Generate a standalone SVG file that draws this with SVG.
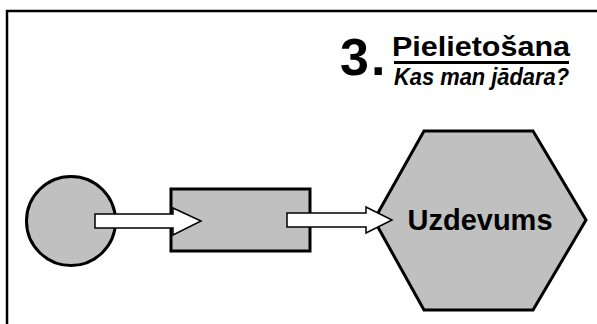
<svg xmlns="http://www.w3.org/2000/svg" width="597" height="324" viewBox="0 0 597 324">
<style>
.node{fill:#c0c0c0;stroke:#000;stroke-width:3}
.arrow{fill:#fff;stroke:#000;stroke-width:1.5;stroke-linejoin:miter}
.t{font-family:"Liberation Sans",Arial,sans-serif;font-weight:bold;fill:#000}
</style>
<rect width="597" height="324" fill="#fff"/>
<path d="M7 324 V11 H597" fill="none" stroke="#000" stroke-width="2.5"/>
<g id="title">
<text class="t" x="340" y="75" font-size="52" letter-spacing="2">3.</text>
<text class="t" x="392" y="56" font-size="27" textLength="178" lengthAdjust="spacingAndGlyphs">Pielietošana</text>
<line x1="394" y1="62.5" x2="569" y2="62.5" stroke="#000" stroke-width="3"/>
<text class="t" x="394" y="85" font-size="24" font-style="italic" textLength="175" lengthAdjust="spacingAndGlyphs">Kas man jādara?</text>
</g>
<g id="circle-node">
<circle class="node" cx="71" cy="221" r="44.5"/>
</g>
<g id="rect-node">
<rect class="node" x="171" y="189" width="139" height="62" stroke-width="3.5"/>
</g>
<g id="hex-node">
<polygon class="node" points="424,131 533,131 586,220 533,310 424,310 374,220"/>
<text class="t" x="480" y="230" font-size="29" text-anchor="middle">Uzdevums</text>
</g>
<g id="connectors">
<polygon class="arrow" points="95,214 173,214 173,208 201,221 173,235 173,228 95,228"/>
<polygon class="arrow" points="287,213 366,213 366,207 392,220 366,233 366,227 287,227"/>
</g>
</svg>
